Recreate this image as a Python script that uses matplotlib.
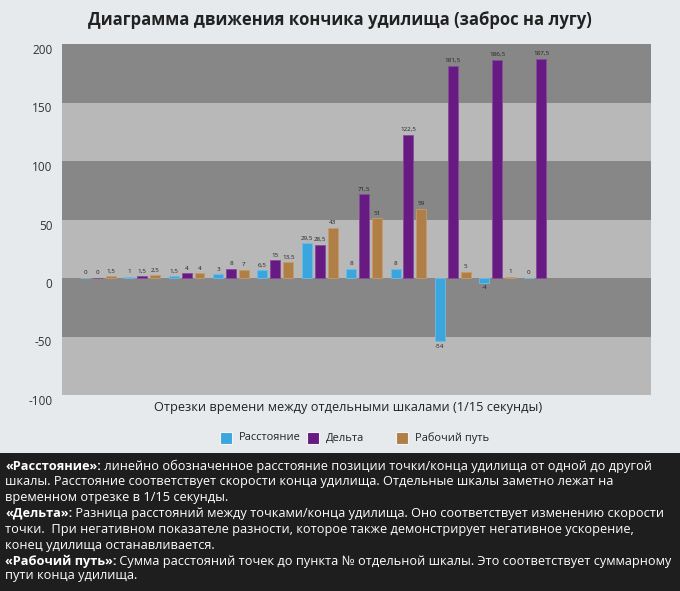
import matplotlib.pyplot as plt
import numpy as np
import matplotlib.transforms as mtransforms
from matplotlib.patches import Rectangle
from matplotlib.text import Annotation

plt.rcParams['font.family'] = ['Open Sans', 'DejaVu Sans']

# values per 1/15 s segment
distance = [0, 1, 1.5, 3, 6.5, 29.5, 8, 8, -54, -4, 0]
delta = [0, 1.5, 4, 8, 15, 28.5, 71.5, 122.5, 181.5, 186.5, 187.5]
work_path = [1.5, 2.5, 4, 7, 13.5, 43, 51, 59, 5, 1, np.nan]
series_names = ["Расстояние", "Дельта", "Рабочий путь"]
colors = ["#3ba5dd", "#661a82", "#b07f48"]
edge_colors = ["#6cbce6", "#8a4aa0", "#c79a68"]
yticks = [-100, -50, 0, 50, 100, 150, 200]

title = "Диаграмма движения кончика удилища (заброс на лугу)"
xlabel = "Отрезки времени между отдельными шкалами (1/15 секунды)"
notes = [
    ("«Расстояние»:", " линейно обозначенное расстояние позиции точки/конца удилища от одной до другой"),
    ("", "шкалы. Расстояние соответствует скорости конца удилища. Отдельные шкалы заметно лежат на"),
    ("", "временном отрезке в 1/15 секунды."),
    ("«Дельта»:", " Разница расстояний между точками/конца удилища. Оно соответствует изменению скорости"),
    ("", "точки.  При негативном показателе разности, которое также демонстрирует негативное ускорение,"),
    ("", "конец удилища останавливается."),
    ("«Рабочий путь»:", " Сумма расстояний точек до пункта № отдельной шкалы. Это соответствует суммарному"),
    ("", "пути конца удилища."),
]

bg = "#e6eaed"
fig = plt.figure(figsize=(6.8, 5.91), dpi=100, facecolor=bg)
ax = fig.add_axes([62 / 680, 1 - 395 / 591, 589 / 680, 351 / 591])

# alternating bands
for i, lo in enumerate(range(-100, 200, 50)):
    ax.axhspan(lo, lo + 50, color="#b8b8b8" if i % 2 == 0 else "#878787", lw=0, zorder=0)

x = np.arange(len(delta))
w = 0.225
off = 0.29
for k, vals in enumerate([distance, delta, work_path]):
    vals = np.array(vals, dtype=float)
    xs = x + (k - 1) * off
    ax.bar(xs, vals, width=w, color=colors[k], edgecolor=edge_colors[k], linewidth=0.6, zorder=2)
    for xi, v in zip(xs, vals):
        if np.isnan(v):
            continue
        s = f"{v:g}".replace(".", ",")
        if v < 0:
            ax.annotate(s, (xi, v), xytext=(0, -2), textcoords="offset points",
                        ha="center", va="top", fontsize=4.5, color="#222222")
        else:
            ax.annotate(s, (xi, v), xytext=(0, 2), textcoords="offset points",
                        ha="center", va="bottom", fontsize=4.5, color="#222222")

ax.set_xlim(-0.81, 12.47)
ax.set_ylim(-100, 200)
ax.set_xticks([])
ax.set_yticks(yticks)
ax.set_yticklabels([str(t) for t in yticks], fontsize=8.5, color="#333333")
ax.tick_params(axis="y", length=0, pad=7)
shift = mtransforms.ScaledTranslation(0, -5 / 100, fig.dpi_scale_trans)
for lab in ax.get_yticklabels():
    lab.set_transform(lab.get_transform() + shift)
for sp in ax.spines.values():
    sp.set_visible(False)

fig.text(0.5, 1 - 20 / 591, title, ha="center", va="center", fontsize=12,
         fontweight="bold", color="#222222")
fig.text(348 / 680, 1 - 408 / 591, xlabel, ha="center", va="center", fontsize=9.2, color="#222222")

# legend
leg_x = [220, 307, 396]
for k in range(3):
    fig.patches.append(Rectangle((leg_x[k] / 680, 1 - 444 / 591), 12 / 680, 12 / 591,
                                 transform=fig.transFigure, facecolor=colors[k],
                                 edgecolor="#f4f4f4", lw=0.8))
    fig.text((leg_x[k] + 19) / 680, 1 - 438 / 591, series_names[k], ha="left", va="center",
             fontsize=7.9, color="#222222")

# notes box
fig.patches.append(Rectangle((0, 0), 1, 138 / 591, transform=fig.transFigure,
                             facecolor="#1e1e1e", edgecolor="none", zorder=-1))
line_y = [466, 482, 497, 513, 529, 545, 561, 576]
fs = 9.2
for (b, t), yy in zip(notes, line_y):
    pos = (5 / 680, 1 - yy / 591)
    if b:
        bt = fig.text(*pos, b, ha="left", va="center", fontsize=fs, fontweight="bold", color="white")
        fig.add_artist(Annotation(t, xy=(1, 0.5), xycoords=bt, ha="left", va="center",
                                  fontsize=fs, color="white"))
    else:
        fig.text(*pos, t, ha="left", va="center", fontsize=fs, color="white")

fig.savefig("out.png", dpi=100, facecolor=bg)
